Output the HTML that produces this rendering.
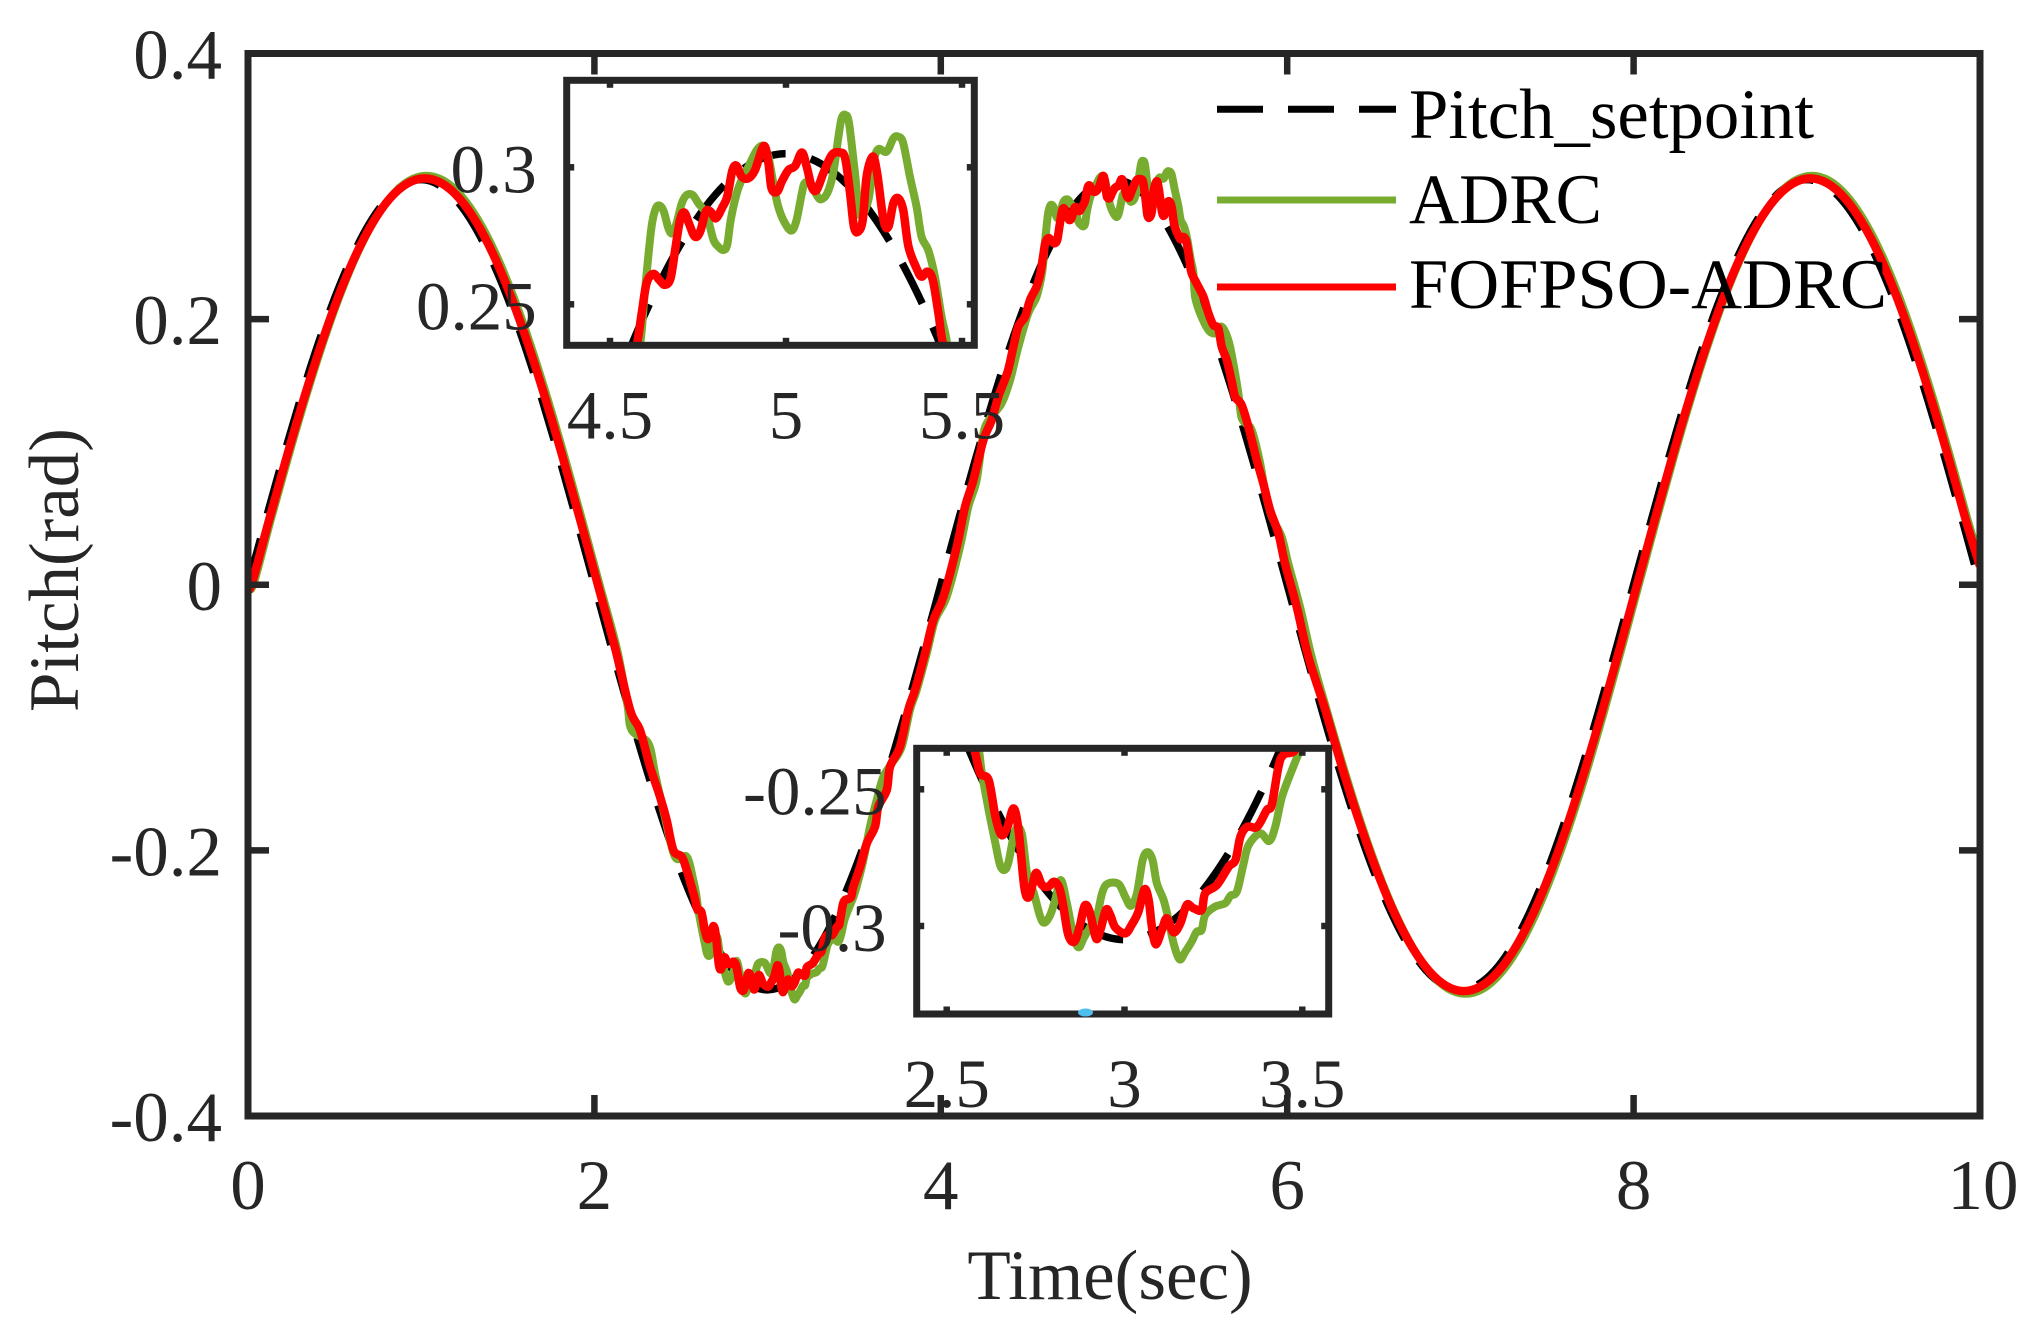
<!DOCTYPE html>
<html lang="en">
<head>
<meta charset="utf-8">
<title>Pitch tracking chart</title>
<style>
html,body{margin:0;padding:0;background:#fff;overflow:hidden;}
svg{display:block;}
text{font-family:"Liberation Serif","Times New Roman",serif;}
</style>
</head>
<body>
<svg id="chart" xmlns="http://www.w3.org/2000/svg" width="2034" height="1324" viewBox="0 0 2034 1324">
<rect x="0" y="0" width="2034" height="1324" fill="#ffffff"/>
<defs>
<clipPath id="clip-main"><rect x="248" y="53.5" width="1732" height="1062.5"/></clipPath>
<clipPath id="clip-top"><rect x="566.7" y="80.3" width="407.6" height="265"/></clipPath>
<clipPath id="clip-bottom"><rect x="916.7" y="748.3" width="412" height="265.7"/></clipPath>
</defs>
<g id="main-layer"></g>
<g id="legend">
<g>
<line x1="1217" y1="109.3" x2="1396" y2="109.3" stroke="#000" stroke-width="7" stroke-dasharray="46 25"/>
<text x="1409" y="138" font-size="71" fill="#000" textLength="405" lengthAdjust="spacingAndGlyphs">Pitch_setpoint</text>
</g>
<g>
<line x1="1217" y1="200" x2="1396" y2="200" stroke="#77AC30" stroke-width="7"/>
<text x="1409" y="223" font-size="71" fill="#000" textLength="193" lengthAdjust="spacingAndGlyphs">ADRC</text>
</g>
<g>
<line x1="1217" y1="287" x2="1396" y2="287" stroke="#FF0000" stroke-width="7"/>
<text x="1409" y="308" font-size="71" fill="#000" textLength="478" lengthAdjust="spacingAndGlyphs">FOFPSO-ADRC</text>
</g>
</g>
<g id="inset-top-layer"></g>
<g id="inset-bottom-layer"></g>
<ellipse cx="1085.5" cy="1012.5" rx="7.5" ry="4" fill="#4DBEEE"/>
<text x="1110" y="1299" font-size="71" fill="#262626" text-anchor="middle">Time(sec)</text>
<text x="0" y="0" transform="translate(78,570) rotate(-90)" font-size="71" fill="#262626" text-anchor="middle">Pitch(rad)</text>
</svg>
<script>
var mainXTicks = [0, 2, 4, 6, 8, 10];
var mainXTickLabels = ["0", "2", "4", "6", "8", "10"];
var mainYTicks = [0.4, 0.2, 0, -0.2, -0.4];
var mainYTickLabels = ["0.4", "0.2", "0", "-0.2", "-0.4"];
var topInsetXTicks = [4.5, 5, 5.5];
var topInsetXTickLabels = ["4.5", "5", "5.5"];
var topInsetYTicks = [0.3, 0.25];
var topInsetYTickLabels = ["0.3", "0.25"];
var bottomInsetXTicks = [2.5, 3, 3.5];
var bottomInsetXTickLabels = ["2.5", "3", "3.5"];
var bottomInsetYTicks = [-0.25, -0.3];
var bottomInsetYTickLabels = ["-0.25", "-0.3"];

var setpointTimes = [
0,0.1,0.2,0.3,0.4,0.5,0.6,0.7,0.8,0.9,
1,1.1,1.2,1.3,1.4,1.5,1.6,1.7,1.8,1.9,
2,2.1,2.2,2.3,2.4,2.5,2.6,2.7,2.8,2.9,
3,3.1,3.2,3.3,3.4,3.5,3.6,3.7,3.8,3.9,
4,4.1,4.2,4.3,4.4,4.5,4.6,4.7,4.8,4.9,
5,5.1,5.2,5.3,5.4,5.5,5.6,5.7,5.8,5.9,
6,6.1,6.2,6.3,6.4,6.5,6.6,6.7,6.8,6.9,
7,7.1,7.2,7.3,7.4,7.5,7.6,7.7,7.8,7.9,
8,8.1,8.2,8.3,8.4,8.5,8.6,8.7,8.8,8.9,
9,9.1,9.2,9.3,9.4,9.5,9.6,9.7,9.8,9.9,
10];
var setpointValues = [
0,0.0477,0.0943,0.1385,0.1793,0.2157,0.2467,0.2718,0.2901,0.3012,
0.305,0.3012,0.2901,0.2718,0.2467,0.2157,0.1793,0.1385,0.0943,0.0477,
0,-0.0477,-0.0943,-0.1385,-0.1793,-0.2157,-0.2467,-0.2718,-0.2901,-0.3012,
-0.305,-0.3012,-0.2901,-0.2718,-0.2467,-0.2157,-0.1793,-0.1385,-0.0943,-0.0477,
0,0.0477,0.0943,0.1385,0.1793,0.2157,0.2467,0.2718,0.2901,0.3012,
0.305,0.3012,0.2901,0.2718,0.2467,0.2157,0.1793,0.1385,0.0943,0.0477,
0,-0.0477,-0.0943,-0.1385,-0.1793,-0.2157,-0.2467,-0.2718,-0.2901,-0.3012,
-0.305,-0.3012,-0.2901,-0.2718,-0.2467,-0.2157,-0.1793,-0.1385,-0.0943,-0.0477,
0,0.0477,0.0943,0.1385,0.1793,0.2157,0.2467,0.2718,0.2901,0.3012,
0.305,0.3012,0.2901,0.2718,0.2467,0.2157,0.1793,0.1385,0.0943,0.0477,
0];

var adrcTimes = [
0,0.03,0.13,0.23,0.33,0.43,0.53,0.63,0.73,0.83,0.93,1.03,1.13,1.23,1.33,1.43,1.53,1.63,1.73,1.83,1.93,2.03,2.13,
2.19,2.215,2.311,2.35,2.402,2.465,2.533,2.571,
2.59,2.599,2.618,2.637,2.65,2.663,2.674,2.693,2.711,2.726,2.745,2.763,2.775,2.791,2.805,2.821,2.838,2.857,2.871,2.885,
2.904,2.922,2.937,2.952,2.983,3.002,3.018,3.035,3.051,3.065,3.079,3.091,3.11,3.124,3.138,3.155,3.171,3.189,3.203,3.217,
3.227,3.255,3.283,3.298,3.316,3.335,3.349,3.381,3.407,3.424,3.443,3.471,3.494,
3.514,3.553,3.591,3.63,3.668,3.717,3.774,3.822,3.861,3.919,3.967,4.034,4.111,4.159,4.207,4.246,4.284,4.351,4.4,4.448,4.505,4.553,
4.585,4.597,4.604,4.618,4.63,4.642,4.653,4.666,4.677,4.689,4.704,4.718,4.735,4.751,4.77,4.779,4.794,4.808,4.822,4.833,
4.843,4.86,4.874,4.893,4.917,4.936,4.95,4.964,4.978,4.997,5.016,5.03,5.045,5.054,5.073,5.087,5.099,5.117,5.134,5.149,
5.158,5.168,5.179,5.196,5.21,5.234,5.248,5.262,5.286,5.305,5.319,5.333,5.352,5.371,5.385,5.404,5.423,5.442,5.458,
5.468,5.497,5.545,5.583,5.622,5.66,5.689,5.718,5.735,5.76,5.795,5.84,5.875,5.911,5.968,6.006,6.074,6.141,6.228,
6.33,6.43,6.53,6.63,6.73,6.83,6.93,7.03,7.13,7.23,7.33,7.43,7.53,7.63,7.73,7.83,7.93,8.03,8.13,8.23,8.33,8.43,8.53,8.63,8.73,8.83,8.93,9.03,9.13,9.23,9.33,9.43,9.53,9.63,9.73,9.83,9.93,10];
var adrcValues = [
0,0,0.0482,0.0952,0.1398,0.181,0.2178,0.2492,0.2744,0.2929,0.3042,0.308,0.3042,0.2929,0.2744,0.2492,0.2178,0.181,0.1398,0.0952,0.0482,0,-0.0482,
-0.09,-0.1094,-0.1194,-0.142,-0.1721,-0.2048,-0.2048,-0.2224,
-0.235,-0.2441,-0.2576,-0.2698,-0.2777,-0.2795,-0.2765,-0.2649,-0.2661,-0.2807,-0.288,-0.2966,-0.2988,-0.296,-0.2905,-0.2832,-0.2917,-0.3039,-0.3078,-0.3045,
-0.3002,-0.2966,-0.288,-0.2846,-0.2846,-0.2893,-0.2926,-0.288,-0.2759,-0.273,-0.2759,-0.2844,-0.2905,-0.2978,-0.3063,-0.3122,-0.3094,-0.3057,-0.3021,-0.3015,
-0.296,-0.2929,-0.2917,-0.2889,-0.2874,-0.2771,-0.2704,-0.2661,-0.2689,-0.2637,-0.2527,-0.2429,-0.2356,
-0.2274,-0.2073,-0.1822,-0.1621,-0.1446,-0.1345,-0.122,-0.0943,-0.0793,-0.0517,-0.0266,-0.009,0.0286,0.0587,0.0788,0.114,0.1253,0.1366,0.1541,0.1792,0.2044,0.2169,
0.2352,0.2516,0.2613,0.2783,0.285,0.286,0.2838,0.2777,0.2759,0.2796,0.2869,0.2899,0.2899,0.2869,0.2838,0.2808,0.2735,0.271,0.2698,0.2717,
0.2808,0.2905,0.2954,0.3002,0.3063,0.3078,0.3039,0.2942,0.2856,0.2796,0.2769,0.2808,0.2905,0.2944,0.2936,0.2899,0.2883,0.2905,0.2978,0.3112,
0.3179,0.3191,0.3161,0.2978,0.2826,0.2881,0.3015,0.3066,0.3057,0.3106,0.3112,0.3088,0.2966,0.2856,0.2747,0.2698,0.2601,0.2455,0.2352,
0.2169,0.2044,0.1918,0.1893,0.1943,0.1843,0.1667,0.1441,0.1265,0.1215,0.1165,0.0939,0.0688,0.0512,0.0361,0.0161,-0.0166,-0.0542,-0.0943,
-0.1398,-0.181,-0.2178,-0.2492,-0.2744,-0.2929,-0.3042,-0.308,-0.3042,-0.2929,-0.2744,-0.2492,-0.2178,-0.181,-0.1398,-0.0952,-0.0482,0,0.0482,0.0952,0.1398,0.181,0.2178,0.2492,0.2744,0.2929,0.3042,0.308,0.3042,0.2929,0.2744,0.2492,0.2178,0.181,0.1398,0.0952,0.0482,0.018];

var fofpsoTimes = [
0,0.02,0.12,0.22,0.32,0.42,0.52,0.62,0.72,0.82,0.92,1.02,1.12,1.22,1.32,1.42,1.52,1.62,1.72,1.82,1.92,2.02,2.12,
2.206,2.263,2.321,2.379,2.417,2.456,2.504,2.533,
2.577,2.594,2.618,2.637,2.654,2.671,2.688,2.702,2.718,2.73,2.741,2.752,2.768,2.786,2.802,2.817,2.828,2.842,2.859,2.874,
2.888,2.902,2.92,2.932,2.948,2.96,2.974,3.002,3.02,3.039,3.056,3.068,3.077,3.088,3.105,3.119,3.138,3.157,3.175,3.194,
3.217,3.227,3.26,3.293,3.312,3.326,3.345,3.373,3.4,3.414,3.433,3.447,3.48,
3.495,3.534,3.572,3.62,3.639,3.688,3.707,3.764,3.812,3.851,3.909,3.957,4.015,4.092,4.14,4.188,4.246,4.294,4.332,4.385,4.419,4.447,4.486,4.515,4.553,
4.576,4.59,4.604,4.623,4.64,4.656,4.672,4.685,4.699,4.711,4.724,4.741,4.756,4.772,4.786,4.801,4.82,4.833,4.848,4.86,
4.874,4.893,4.912,4.937,4.95,4.959,4.975,4.988,5.007,5.026,5.045,5.059,5.073,5.087,5.106,5.13,5.153,5.168,5.182,5.193,
5.205,5.218,5.229,5.246,5.259,5.277,5.291,5.305,5.319,5.333,5.348,5.371,5.385,5.402,5.417,5.433,5.447,
5.477,5.516,5.545,5.573,5.602,5.622,5.651,5.68,5.699,5.737,5.776,5.824,5.862,5.901,5.949,5.987,6.055,6.122,6.22,
6.32,6.42,6.52,6.62,6.72,6.82,6.92,7.02,7.12,7.22,7.32,7.42,7.52,7.62,7.72,7.82,7.92,8.02,8.12,8.22,8.32,8.42,8.52,8.62,8.72,8.82,8.92,9.02,9.12,9.22,9.32,9.42,9.52,9.62,9.72,9.82,9.92,10];
var fofpsoValues = [
0,0,0.0479,0.0946,0.1389,0.1799,0.2164,0.2476,0.2726,0.291,0.3022,0.306,0.3022,0.291,0.2726,0.2476,0.2164,0.1799,0.1389,0.0946,0.0479,0,-0.0479,
-0.0943,-0.1094,-0.137,-0.1596,-0.1772,-0.1998,-0.2048,-0.2148,
-0.235,-0.2441,-0.2466,-0.26,-0.2667,-0.2637,-0.257,-0.2649,-0.2856,-0.2896,-0.285,-0.2805,-0.285,-0.2856,-0.2838,-0.2862,-0.2929,-0.3033,-0.3057,-0.3002,
-0.2926,-0.2948,-0.3045,-0.3015,-0.2941,-0.296,-0.3005,-0.3027,-0.2996,-0.2948,-0.2866,-0.2905,-0.3002,-0.3067,-0.3015,-0.2972,-0.3023,-0.299,-0.2923,-0.2935,
-0.2941,-0.288,-0.285,-0.2783,-0.2759,-0.2673,-0.2637,-0.2637,-0.2576,-0.2557,-0.2417,-0.2374,-0.2356,
-0.2274,-0.2123,-0.195,-0.1822,-0.1672,-0.1546,-0.137,-0.122,-0.0943,-0.0793,-0.0517,-0.0266,-0.009,0.0286,0.0587,0.0788,0.109,0.124,0.1416,0.16,0.1792,0.1943,0.2018,0.2144,0.2244,
0.2352,0.2467,0.2577,0.2611,0.2589,0.2571,0.2595,0.2698,0.2808,0.2835,0.2796,0.2747,0.2765,0.2838,0.2838,0.2814,0.2856,0.2893,0.299,0.3005,
0.2966,0.296,0.299,0.3078,0.3015,0.2923,0.2911,0.2948,0.299,0.3005,0.3054,0.3002,0.2929,0.2917,0.2978,0.3045,0.3054,0.3033,0.2905,0.2783,
0.2765,0.2808,0.2966,0.3039,0.2978,0.2808,0.2783,0.2869,0.2887,0.2844,0.271,0.2631,0.2601,0.2619,0.2589,0.2467,0.2352,
0.2269,0.2169,0.2044,0.1956,0.1931,0.1792,0.1692,0.153,0.1416,0.1353,0.119,0.0939,0.0763,0.0563,0.0387,0.0161,-0.0166,-0.0542,-0.0943,
-0.1389,-0.1799,-0.2164,-0.2476,-0.2726,-0.291,-0.3022,-0.306,-0.3022,-0.291,-0.2726,-0.2476,-0.2164,-0.1799,-0.1389,-0.0946,-0.0479,0,0.0479,0.0946,0.1389,0.1799,0.2164,0.2476,0.2726,0.291,0.3022,0.306,0.3022,0.291,0.2726,0.2476,0.2164,0.1799,0.1389,0.0946,0.0479,0.014];

var SVGNS = "http://www.w3.org/2000/svg";
var FRAME = "#262626";
var BLACK = "#000000";
var GREEN = "#77AC30";
var RED = "#FF0000";

function mk(parent, tag, attrs) {
  var el = document.createElementNS(SVGNS, tag);
  for (var k in attrs) { el.setAttribute(k, attrs[k]); }
  parent.appendChild(el);
  return el;
}
function linear(d0, d1, r0, r1) {
  return function (v) { return r0 + (v - d0) * (r1 - r0) / (d1 - d0); };
}
function smoothPath(ts, vs, sx, sy) {
  var xs = [], ys = [], n = Math.min(ts.length, vs.length), i;
  for (i = 0; i < n; i++) { xs.push(sx(ts[i])); ys.push(sy(vs[i])); }
  var d = "M" + xs[0].toFixed(2) + " " + ys[0].toFixed(2);
  for (i = 0; i < n - 1; i++) {
    var a = Math.max(i - 1, 0), b = Math.min(i + 2, n - 1);
    var c1x = xs[i] + (xs[i + 1] - xs[a]) / 6, c1y = ys[i] + (ys[i + 1] - ys[a]) / 6;
    var c2x = xs[i + 1] - (xs[b] - xs[i]) / 6, c2y = ys[i + 1] - (ys[b] - ys[i]) / 6;
    d += "C" + c1x.toFixed(2) + " " + c1y.toFixed(2) + " " + c2x.toFixed(2) + " " + c2y.toFixed(2) + " " + xs[i + 1].toFixed(2) + " " + ys[i + 1].toFixed(2);
  }
  return d;
}
function windowed(ts, vs, lo, hi) {
  var outT = [], outV = [];
  for (var i = 0; i < ts.length; i++) {
    if (ts[i] >= lo - 1e-9 && ts[i] <= hi + 1e-9) { outT.push(ts[i]); outV.push(vs[i]); }
  }
  return { t: outT, v: outV };
}
function drawSeries(layer, sx, sy, clipId, prefix, lo, hi, dashOffset) {
  var setW = windowed(setpointTimes, setpointValues, lo, hi);
  var adrcW = windowed(adrcTimes, adrcValues, lo, hi);
  var fofW = windowed(fofpsoTimes, fofpsoValues, lo, hi);
  var g = mk(layer, "g", { "clip-path": "url(#" + clipId + ")" });
  
  
  var black = mk(g, "path", { d: smoothPath(setW.t, setW.v, sx, sy), fill: "none", stroke: BLACK, "stroke-width": 7.5, "stroke-dasharray": "45 25.75", "stroke-dashoffset": dashOffset });
  
  
  var green = mk(g, "path", { d: smoothPath(adrcW.t, adrcW.v, sx, sy), fill: "none", stroke: GREEN, "stroke-width": 8, "stroke-linejoin": "round" });
  
  
  var red = mk(g, "path", { d: smoothPath(fofW.t, fofW.v, sx, sy), fill: "none", stroke: RED, "stroke-width": 8.5, "stroke-linejoin": "round" });
  
  
}
function drawFrame(layer, box, sx, sy, xTicks, xLabels, yTicks, yLabels, tickLen, fontSize, prefix, labelGapY, labelGapX) {
  var i, t, line, label;
  var frame = mk(layer, "rect", { x: box.l, y: box.t, width: box.r - box.l, height: box.b - box.t, fill: "none", stroke: FRAME, "stroke-width": 7 });
  
  
  for (i = 0; i < xTicks.length; i++) {
    t = sx(xTicks[i]);
    if (t > box.l + 1 && t < box.r - 1) {
      line = mk(layer, "line", { x1: t, x2: t, y1: box.b, y2: box.b - tickLen, stroke: FRAME, "stroke-width": 6.5 });
      
      
      line = mk(layer, "line", { x1: t, x2: t, y1: box.t, y2: box.t + tickLen, stroke: FRAME, "stroke-width": 6.5 });
      
      
    }
    label = mk(layer, "text", { x: t + (xLabels[i].length === 2 ? 3 : 0), y: box.b + labelGapX, "font-size": fontSize, fill: FRAME, "text-anchor": "middle" });
    label.textContent = xLabels[i];
    
    
  }
  for (i = 0; i < yTicks.length; i++) {
    t = sy(yTicks[i]);
    if (t > box.t + 1 && t < box.b - 1) {
      line = mk(layer, "line", { x1: box.l, x2: box.l + tickLen, y1: t, y2: t, stroke: FRAME, "stroke-width": 6.5 });
      
      
      line = mk(layer, "line", { x1: box.r, x2: box.r - tickLen, y1: t, y2: t, stroke: FRAME, "stroke-width": 6.5 });
      
      
    }
    label = mk(layer, "text", { x: box.l - labelGapY, y: t + 25, "font-size": fontSize, fill: FRAME, "text-anchor": "end" });
    label.textContent = yLabels[i];
    
    
  }
}

/* main axes */
var mainBox = { l: 248, r: 1980, t: 53.5, b: 1116 };
var mainXScale = linear(0, 10, mainBox.l, mainBox.r);
var mainYScale = linear(0.4, -0.4, mainBox.t, mainBox.b);
var mainLayer = document.getElementById("main-layer");
drawSeries(mainLayer, mainXScale, mainYScale, "clip-main", "main", 0, 10, 68);
drawFrame(mainLayer, mainBox, mainXScale, mainYScale, mainXTicks, mainXTickLabels, mainYTicks, mainYTickLabels, 21, 71, "main", 26, 93);

/* inset around the peak at t = 5 */
var topBox = { l: 566.7, r: 974.3, t: 80.3, b: 345.3 };
var topXScale = linear(4.5, 5.5, 610, 962);
var topYScale = linear(0.3, 0.25, 167.3, 304.3);
var topLayer = document.getElementById("inset-top-layer");
var topBg = mk(topLayer, "rect", { x: topBox.l, y: topBox.t, width: topBox.r - topBox.l, height: topBox.b - topBox.t, fill: "#ffffff" });


drawSeries(topLayer, topXScale, topYScale, "clip-top", "inset-peak", topInsetXTicks[0], topInsetXTicks[2], 14);
drawFrame(topLayer, topBox, topXScale, topYScale, topInsetXTicks, topInsetXTickLabels, topInsetYTicks, topInsetYTickLabels, 7.5, 69, "inset-peak", 30, 93);

/* inset around the trough at t = 3 */
var bottomBox = { l: 916.7, r: 1328.7, t: 748.3, b: 1014 };
var bottomXScale = linear(2.5, 3.5, 946.7, 1302.3);
var bottomYScale = linear(-0.25, -0.3, 789.3, 926);
var bottomLayer = document.getElementById("inset-bottom-layer");
var bottomBg = mk(bottomLayer, "rect", { x: bottomBox.l, y: bottomBox.t, width: bottomBox.r - bottomBox.l, height: bottomBox.b - bottomBox.t, fill: "#ffffff" });


drawSeries(bottomLayer, bottomXScale, bottomYScale, "clip-bottom", "inset-trough", bottomInsetXTicks[0], bottomInsetXTicks[2], 14.3);
drawFrame(bottomLayer, bottomBox, bottomXScale, bottomYScale, bottomInsetXTicks, bottomInsetXTickLabels, bottomInsetYTicks, bottomInsetYTickLabels, 7.5, 69, "inset-trough", 30, 93);
</script>
</body>
</html>
